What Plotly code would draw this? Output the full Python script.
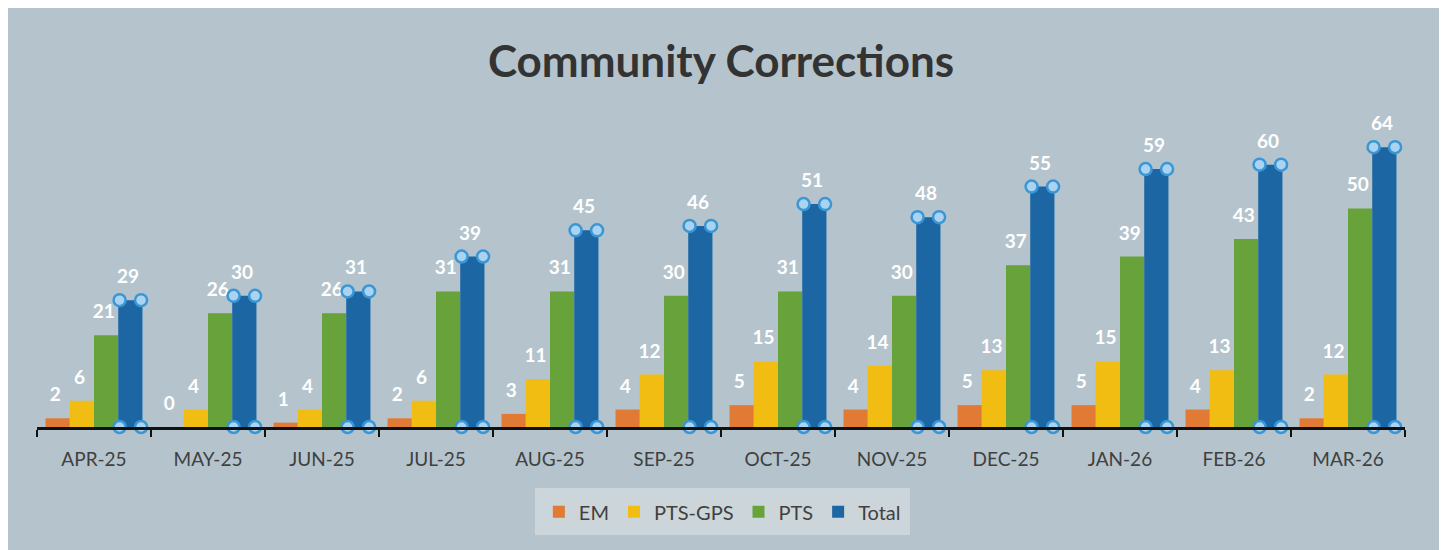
import plotly.graph_objects as go

months = ["APR-25", "MAY-25", "JUN-25", "JUL-25", "AUG-25", "SEP-25",
          "OCT-25", "NOV-25", "DEC-25", "JAN-26", "FEB-26", "MAR-26"]
em = [2, 0, 1, 2, 3, 4, 5, 4, 5, 5, 4, 2]
pts_gps = [6, 4, 4, 6, 11, 12, 15, 14, 13, 15, 13, 12]
pts = [21, 26, 26, 31, 31, 30, 31, 30, 37, 39, 43, 50]
total = [29, 30, 31, 39, 45, 46, 51, 48, 55, 59, 60, 64]

series = [("EM", em, "#e07a35"), ("PTS-GPS", pts_gps, "#f2bd12"),
          ("PTS", pts, "#68a23a"), ("Total", total, "#1c66a4")]

BG = "#b5c4cc"
FONT = "Lato, 'Open Sans', sans-serif"
bargap = 0.15
n = len(series)
bw = (1 - bargap) / n
idx = list(range(len(months)))

fig = go.Figure()
for name, vals, col in series:
    fig.add_trace(go.Bar(
        x=months, y=vals, name=name, marker=dict(color=col, line=dict(width=0)),
        hoverinfo="x+y+name"))

# data labels, placed above each bar (positions derived from the bar layout)
for k, (name, vals, col) in enumerate(series):
    off = -(1 - bargap) / 2 + (k + 0.5) * bw - 0.02
    fig.add_trace(go.Scatter(
        x=[i + off for i in idx], y=vals, xaxis="x2", mode="markers+text",
        text=[str(v) for v in vals], textposition="top center",
        marker=dict(size=18, color="rgba(0,0,0,0)"), cliponaxis=False,
        textfont=dict(color="white", size=19, family=FONT, weight="bold"),
        showlegend=False, hoverinfo="skip"))

# selection handles on the Total bars (derived from the bar layout)
off_t = -(1 - bargap) / 2 + (n - 0.5) * bw
hx, hy = [], []
for i, v in zip(idx, total):
    for dx in (-bw / 2 + 0.012, bw / 2 - 0.012):
        hx += [i + off_t + dx, i + off_t + dx]
        hy += [v, 0]
fig.add_trace(go.Scatter(
    x=hx, y=hy, xaxis="x2", mode="markers", showlegend=False, hoverinfo="skip",
    cliponaxis=False,
    marker=dict(size=12, color="#a9d3f0", line=dict(color="#3a96d4", width=2.5))))

fig.update_layout(
    width=1447, height=550,
    barmode="group", bargap=bargap, bargroupgap=0,
    paper_bgcolor=BG, plot_bgcolor=BG,
    margin=dict(l=29, r=50, t=113, b=131),
    font=dict(family=FONT, color="#404040"),
    title=dict(text="<b>Community Corrections</b>", x=0.5, xref="paper", xanchor="center",
               y=1 - 54 / 550, yref="container", yanchor="middle",
               font=dict(size=44, color="#333333", family=FONT)),
    xaxis=dict(type="category", showline=True, linecolor="#111111", linewidth=2.5,
               ticks="outside", tickson="boundaries", ticklen=7, tickwidth=2,
               tickcolor="#111111", showgrid=False, ticklabelstandoff=13,
               tickfont=dict(size=19, color="#404040", family=FONT)),
    xaxis2=dict(overlaying="x", range=[-0.5, len(months) - 0.5], visible=False),
    yaxis=dict(range=[0, 70], visible=False, showgrid=False),
    legend=dict(orientation="h", x=0.501, xanchor="center", y=-0.2, yanchor="top",
                bgcolor="#ccd5d9", font=dict(size=20, color="#404040", family=FONT),
                itemwidth=30, traceorder="normal", valign="middle",
                borderwidth=4, bordercolor="#ccd5d9"),
)

fig.write_html("out.html")
